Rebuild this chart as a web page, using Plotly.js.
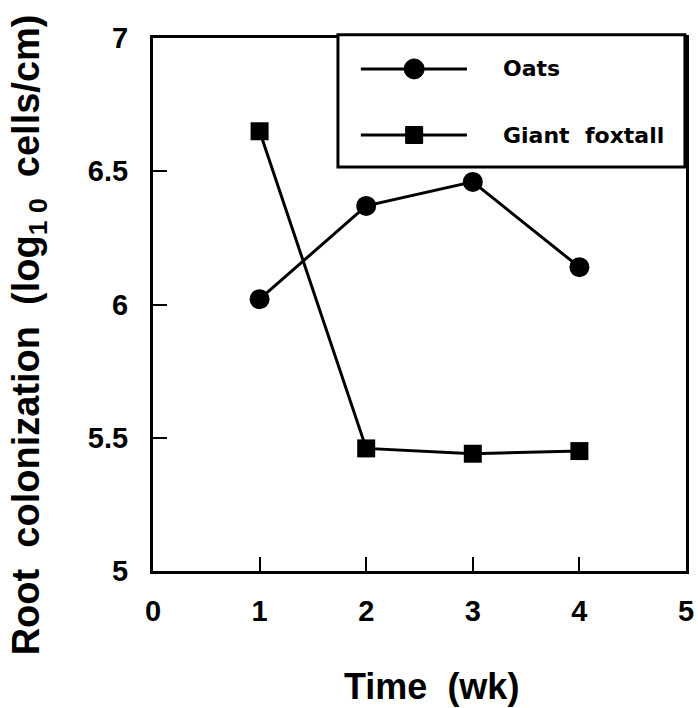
<!DOCTYPE html>
<html>
<head>
<meta charset="utf-8">
<script src="https://cdn.plot.ly/plotly-3.0.1.min.js"></script>
<style>html,body{margin:0;padding:0;background:#fff;}#chart{width:698px;height:708px;}</style>
</head>
<body>
<div id="chart"></div>
<script>
var weeks = [1, 2, 3, 4];
var oats = [6.02, 6.37, 6.46, 6.14];
var foxtail = [6.65, 5.46, 5.44, 5.45];
var seriesNames = ["Oats", "Giant  foxtall"];
var xTicks = [0, 1, 2, 3, 4, 5];
var yTicks = [5, 5.5, 6, 6.5, 7];
var yTickLabels = ["5", "5.5", "6", "6.5", "7"];
var xTitle = "Time  (wk)";
var yTitle = "Root  colonization  (log<sub>1 0</sub>  cells/cm)";

var tickFont = {family: "Liberation Sans, Arial, sans-serif", size: 29, color: "#000", weight: 700};
var titleFont = {family: "Liberation Sans, Arial, sans-serif", size: 38, color: "#000", weight: 700};
var xTitleFont = {family: "Liberation Sans, Arial, sans-serif", size: 36, color: "#000", weight: 700};
var legFont = {family: "DejaVu Sans, sans-serif", size: 22, color: "#000", weight: 700};

var traces = [
  {x: weeks, y: oats, name: seriesNames[0], type: "scatter", mode: "lines+markers",
   line: {color: "#000", width: 3}, marker: {symbol: "circle", size: 20, color: "#000"}},
  {x: weeks, y: foxtail, name: seriesNames[1], type: "scatter", mode: "lines+markers",
   line: {color: "#000", width: 3}, marker: {symbol: "square", size: 18, color: "#000"}}
];

var legX0 = 0.347, legX1 = 0.998, legY0 = 0.758, legY1 = 1.006;
var lineX0 = 0.39, lineX1 = 0.589, markX = 0.49, textX = 0.652;
var rowY = [0.942, 0.818];

var shapes = [
  {type: "rect", xref: "paper", yref: "paper", x0: legX0, x1: legX1, y0: legY0, y1: legY1,
   line: {color: "#000", width: 3}, fillcolor: "#fff", layer: "above"}
];
var annotations = [];
rowY.forEach(function (ry, i) {
  shapes.push({type: "line", xref: "paper", yref: "paper", x0: lineX0, x1: lineX1, y0: ry, y1: ry,
    line: {color: "#000", width: 3}, layer: "above"});
  var h = i === 0 ? 10 : 8.5;
  shapes.push({type: i === 0 ? "circle" : "rect", xref: "paper", yref: "paper",
    xsizemode: "pixel", ysizemode: "pixel", xanchor: markX, yanchor: ry,
    x0: -h, x1: h, y0: -h, y1: h, fillcolor: "#000", line: {color: "#000", width: 1}, layer: "above"});
  annotations.push({xref: "paper", yref: "paper", x: textX, y: ry, xanchor: "left", yanchor: "middle",
    text: seriesNames[i], showarrow: false, font: legFont});
});
annotations.push({xref: "paper", yref: "paper", x: 0.5216, y: -0.2158, xanchor: "center", yanchor: "middle",
  text: xTitle, showarrow: false, font: xTitleFont});
annotations.push({xref: "paper", yref: "paper", x: -0.233, y: 0.4437, xanchor: "center", yanchor: "middle",
  text: yTitle, textangle: -90, showarrow: false, font: titleFont});

var layout = {
  width: 698, height: 708,
  margin: {l: 153, r: 12, t: 38, b: 137},
  paper_bgcolor: "#fff", plot_bgcolor: "#fff",
  showlegend: false,
  xaxis: {
    range: [0, 5], tickvals: xTicks, ticktext: xTicks.map(String),
    showgrid: false, zeroline: false, showline: true, mirror: true, linecolor: "#000", linewidth: 3,
    ticks: "inside", ticklen: 14, tickwidth: 2, tickcolor: "#000", tickfont: tickFont,
    ticklabelstandoff: 12
  },
  yaxis: {
    range: [5, 7], tickvals: yTicks, ticktext: yTickLabels,
    showgrid: false, zeroline: false, showline: true, mirror: true, linecolor: "#000", linewidth: 3,
    ticks: "inside", ticklen: 14, tickwidth: 2, tickcolor: "#000", tickfont: tickFont,
    ticklabelstandoff: 16
  },
  shapes: shapes,
  annotations: annotations
};

Plotly.newPlot("chart", traces, layout, {displayModeBar: false, staticPlot: true});
</script>
</body>
</html>
